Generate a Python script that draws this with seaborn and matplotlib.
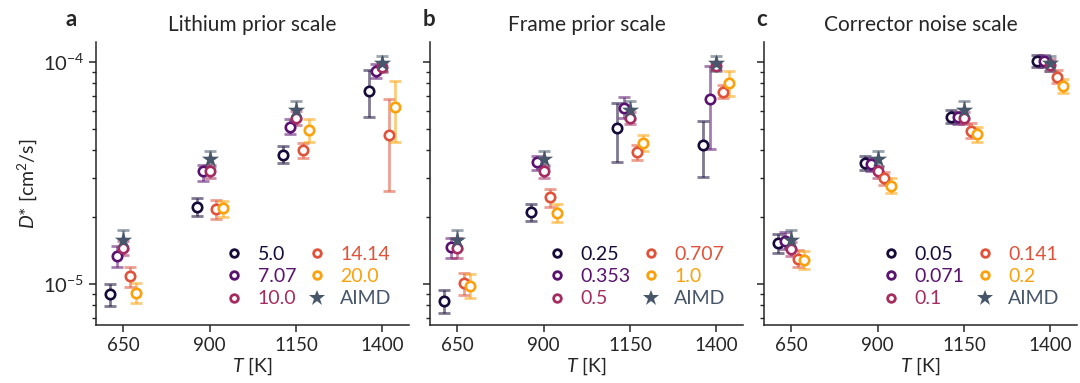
import numpy as np
import matplotlib
matplotlib.use("Agg")
import matplotlib.pyplot as plt
import seaborn as sns
from matplotlib.lines import Line2D

# ---------------- data ----------------
temps = [650, 900, 1150, 1400]
temp_labels = ["650", "900", "1150", "1400"]

titles = ["Lithium prior scale", "Frame prior scale", "Corrector noise scale"]
panel_letters = ["a", "b", "c"]

labels_a = ["5.0", "7.07", "10.0", "14.14", "20.0"]
labels_b = ["0.25", "0.353", "0.5", "0.707", "1.0"]
labels_c = ["0.05", "0.071", "0.1", "0.141", "0.2"]

vals_a = [[9.0e-6, 2.23e-5, 3.82e-5, 7.40e-5],
          [1.336e-5, 3.21e-5, 5.11e-5, 9.11e-5],
          [1.45e-5, 3.22e-5, 5.6e-5, 9.53e-5],
          [1.08e-5, 2.18e-5, 4.02e-5, 4.69e-5],
          [9.14e-6, 2.2e-5, 4.92e-5, 6.25e-5]]
lo_a = [[7.96e-6, 2.03e-5, 3.52e-5, 5.63e-5],
        [1.19e-5, 2.91e-5, 4.72e-5, 8.5e-5],
        [1.35e-5, 3.0e-5, 5.2e-5, 9.0e-5],
        [9.66e-6, 1.96e-5, 3.71e-5, 2.62e-5],
        [8.19e-6, 2.0e-5, 4.37e-5, 4.37e-5]]
hi_a = [[1.0e-5, 2.45e-5, 4.19e-5, 9.2e-5],
        [1.48e-5, 3.44e-5, 5.52e-5, 9.77e-5],
        [1.56e-5, 3.44e-5, 6.0e-5, 1.0e-4],
        [1.197e-5, 2.39e-5, 4.31e-5, 6.81e-5],
        [1.007e-5, 2.37e-5, 5.52e-5, 8.24e-5]]

vals_b = [[8.41e-6, 2.11e-5, 5.06e-5, 4.22e-5],
          [1.46e-5, 3.53e-5, 6.23e-5, 6.79e-5],
          [1.45e-5, 3.21e-5, 5.61e-5, 9.59e-5],
          [1.007e-5, 2.46e-5, 3.92e-5, 7.35e-5],
          [9.82e-6, 2.09e-5, 4.33e-5, 8.07e-5]]
lo_b = [[7.43e-6, 1.92e-5, 3.53e-5, 3.04e-5],
        [1.31e-5, 3.26e-5, 5.57e-5, 4.06e-5],
        [1.31e-5, 3.0e-5, 5.25e-5, 9.2e-5],
        [8.9e-6, 2.23e-5, 3.62e-5, 6.86e-5],
        [8.67e-6, 1.91e-5, 3.98e-5, 7.05e-5]]
hi_b = [[9.4e-6, 2.29e-5, 6.52e-5, 5.44e-5],
        [1.61e-5, 3.77e-5, 6.98e-5, 9.62e-5],
        [1.61e-5, 3.42e-5, 5.96e-5, 1.0e-4],
        [1.116e-5, 2.67e-5, 4.22e-5, 7.87e-5],
        [1.106e-5, 2.29e-5, 4.67e-5, 9.1e-5]]

vals_c = [[1.535e-5, 3.52e-5, 5.67e-5, 1.01e-4],
          [1.567e-5, 3.46e-5, 5.63e-5, 1.01e-4],
          [1.443e-5, 3.21e-5, 5.6e-5, 9.69e-5],
          [1.30e-5, 2.99e-5, 4.89e-5, 8.59e-5],
          [1.28e-5, 2.77e-5, 4.72e-5, 7.82e-5]]
lo_c = [[1.375e-5, 3.26e-5, 5.3e-5, 9.45e-5],
        [1.43e-5, 3.24e-5, 5.28e-5, 9.45e-5],
        [1.34e-5, 3.01e-5, 5.25e-5, 9.1e-5],
        [1.19e-5, 2.79e-5, 4.55e-5, 8.0e-5],
        [1.17e-5, 2.56e-5, 4.37e-5, 7.25e-5]]
hi_c = [[1.68e-5, 3.77e-5, 6.07e-5, 1.08e-4],
        [1.71e-5, 3.68e-5, 5.98e-5, 1.08e-4],
        [1.54e-5, 3.41e-5, 5.95e-5, 1.03e-4],
        [1.42e-5, 3.19e-5, 5.3e-5, 9.2e-5],
        [1.40e-5, 3.0e-5, 5.08e-5, 8.4e-5]]

aimd_vals = [1.58e-5, 3.65e-5, 6.08e-5, 9.87e-5]
aimd_lo = [1.43e-5, 3.35e-5, 5.55e-5, 9.1e-5]
aimd_hi = [1.746e-5, 3.97e-5, 6.65e-5, 1.067e-4]
aimd_label = "AIMD"

# ---------------- style ----------------
colors = ["#160b39", "#5a1270", "#a52c60", "#e0533a", "#fca10c"]
aimd_color = "#47566a"
offsets = [-37.5, -18.75, 0.0, 18.75, 37.5]

sns.set_style("ticks")
plt.rcParams["font.family"] = ["Lato", "DejaVu Sans"]
plt.rcParams["mathtext.fontset"] = "custom"
plt.rcParams["mathtext.rm"] = "Lato"
plt.rcParams["mathtext.it"] = "Lato:italic"
plt.rcParams["mathtext.bf"] = "Lato:bold"
plt.rcParams["axes.linewidth"] = 1.1

fig = plt.figure(figsize=(10.8, 3.83), dpi=100)
ax_w = 313 / 1080
ax_h = 283 / 383
bottom = 1 - 325 / 383
lefts = [96 / 1080, 430 / 1080, 764 / 1080]
letter_x = [71 / 1080, 429 / 1080, 762 / 1080]
axes = [fig.add_axes([l, bottom, ax_w, ax_h]) for l in lefts]

panels = [(labels_a, vals_a, lo_a, hi_a),
          (labels_b, vals_b, lo_b, hi_b),
          (labels_c, vals_c, lo_c, hi_c)]

for p, ax in enumerate(axes):
    labs, vals, los, his = panels[p]
    for i in range(5):
        x = np.array(temps) + offsets[i]
        v = np.array(vals[i])
        lo = np.array(los[i])
        hi = np.array(his[i])
        ax.errorbar(x, v, yerr=[v - lo, hi - v], fmt="none", ecolor=colors[i],
                    alpha=0.55, elinewidth=2.0, capsize=4, capthick=2.0, zorder=2)
        sns.scatterplot(x=x, y=v, ax=ax, marker="o", s=46, color="white",
                        edgecolor=colors[i], linewidth=1.9, zorder=3 + i * 0.01)
    v = np.array(aimd_vals)
    ax.errorbar(np.array(temps), v, yerr=[v - np.array(aimd_lo), np.array(aimd_hi) - v],
                fmt="none", ecolor=aimd_color, alpha=0.55, elinewidth=2.0, capsize=4,
                capthick=2.0, zorder=2)
    sns.scatterplot(x=np.array(temps), y=v, ax=ax, marker="*", s=170, color=aimd_color,
                    edgecolor=aimd_color, linewidth=0, zorder=4)

    ax.set_yscale("log")
    ax.set_ylim(6.53e-6, 1.23e-4)
    ax.set_xlim(571, 1477)
    ax.set_xticks(temps)
    ax.set_xticklabels(temp_labels)
    ax.tick_params(axis="both", which="major", labelsize=13.5, length=5, width=1.1)
    ax.tick_params(axis="y", which="major", labelsize=14.5)
    ax.tick_params(axis="y", which="minor", length=3, width=1.0)
    ax.set_xlabel("$T$ [K]", fontsize=14, labelpad=1)
    if p == 0:
        ax.set_ylabel("$D$* [cm$^2$/s]", fontsize=14, labelpad=3)
    else:
        ax.set_ylabel("")
        ax.tick_params(axis="y", which="both", labelleft=False)
    ax.set_title(titles[p], fontsize=15, pad=8)
    sns.despine(ax=ax)

    handles = []
    for i in range(5):
        handles.append(Line2D([], [], linestyle="none", marker="o", markersize=5.5,
                              markerfacecolor="white", markeredgecolor=colors[i],
                              markeredgewidth=2.0))
    handles.append(Line2D([], [], linestyle="none", marker="*", markersize=12,
                          markerfacecolor=aimd_color, markeredgecolor=aimd_color,
                          markeredgewidth=0))
    leg = ax.legend(handles, list(labs) + [aimd_label], ncol=2, loc="lower right",
                    bbox_to_anchor=(1.0, 0.0), frameon=False, fontsize=14,
                    handlelength=1.0, handletextpad=0.7, columnspacing=0.55,
                    labelspacing=0.28, borderaxespad=0.5)
    for t, c in zip(leg.get_texts(), colors + [aimd_color]):
        t.set_color(c)

    fig.text(letter_x[p], 1 - 19 / 383, panel_letters[p], fontsize=16,
             fontweight="bold", ha="center", va="center")

fig.savefig("out.png", dpi=100)
